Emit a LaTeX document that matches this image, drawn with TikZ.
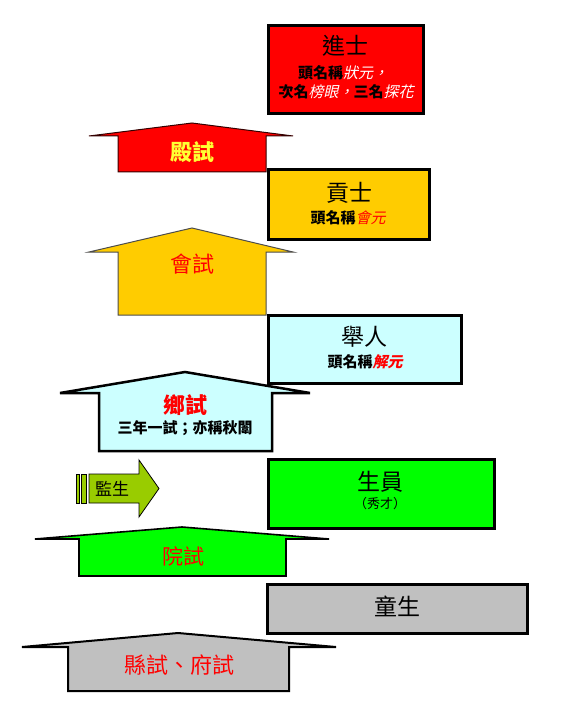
\documentclass[tikz,border=0pt]{standalone}
\usepackage{fontspec}
\newfontfamily\cjk{Noto Sans CJK TC}
\newfontfamily\cjkit[FakeSlant=0.22]{Noto Sans CJK TC}
\definecolor{jred}{HTML}{FF0000}
\definecolor{gold}{HTML}{FFCC00}
\definecolor{lcyan}{HTML}{CCFFFF}
\definecolor{lgreen}{HTML}{00FF00}
\definecolor{olive}{HTML}{99CC00}
\definecolor{lgray}{HTML}{C0C0C0}
\definecolor{yel}{HTML}{FFFF33}
\tikzset{
  rankbox/.style={draw=black, line width=3pt, inner sep=0pt},
  exam/.style={draw=black, line width=1pt, line join=miter},
  title/.style={font=\cjk\fontsize{23}{26}\selectfont, inner sep=0pt},
  sub/.style={font=\cjk\bfseries\fontsize{15}{18}\selectfont, inner sep=0pt},
  examtext/.style={font=\cjk\fontsize{22}{25}\selectfont, text=jred, inner sep=0pt},
}
\newcommand{\itw}[1]{{\cjkit\mdseries\color{white}#1}}
\newcommand{\itr}[1]{{\cjkit\color{jred}#1}}
\begin{document}
\begin{tikzpicture}[x=1pt,y=-1pt]
\useasboundingbox (0,0) rectangle (575,719);
% ---- exam arrows ----
\draw[exam, fill=jred, draw=black!80!red] (89,136) -- (192,123) -- (293,136) -- (266,136) -- (266,172) -- (118,172) -- (118,136) -- cycle;
\node[examtext, text=yel, font=\cjk\bfseries\fontsize{22}{25}\selectfont] (dianshi) at (192,152) {殿試};

\draw[exam, fill=gold, draw=black!70] (89,252) -- (192,228) -- (293,252) -- (266,252) -- (266,315) -- (118,315) -- (118,252) -- cycle;
\node[examtext] (huishi) at (192,264) {會試};

\draw[exam, fill=lcyan, line width=2.5pt] (60,393) -- (185,372) -- (310,393) -- (272,393) -- (272,451) -- (99,451) -- (99,393) -- cycle;
\node[examtext, font=\cjk\bfseries\fontsize{22}{25}\selectfont] (xiangshi) at (185,405) {鄉試};
\node[sub] (xiangsub) at (185,428) {三年一試；亦稱秋闈};

\draw[exam, fill=olive, line width=0.8pt] (76,474) rectangle (79,503);
\draw[exam, fill=olive, line width=0.8pt] (81,474) rectangle (86,503);
\draw[exam, fill=olive, line width=0.8pt] (89,474) -- (139,474) -- (139,460) -- (159,488.5) -- (139,517) -- (139,503) -- (89,503) -- cycle;
\node[font=\cjk\fontsize{17}{20}\selectfont, inner sep=0pt] (jiansheng) at (112,489) {監生};

\draw[exam, fill=lgreen, line width=1.6pt] (35,539) -- (182,527) -- (329,539) -- (286,539) -- (286,576) -- (79,576) -- (79,539) -- cycle;
\node[examtext, font=\cjk\fontsize{21}{24}\selectfont] (yuanshi) at (183,556) {院試};

\draw[exam, fill=lgray, line width=2pt] (22,647) -- (178,633) -- (336,647) -- (289,647) -- (289,691) -- (68,691) -- (68,647) -- cycle;
\node[examtext] (xianshi) at (179,665) {縣試、府試};

% ---- rank boxes ----
\node[rankbox, fill=jred, minimum width=155pt, minimum height=88pt] (jinshi) at (345.5,70) {};
\node[title] (jinshiT) at (345,46) {進士};
\node[sub] (jinshiA) at (343,73) {頭名稱\itw{狀元，}};
\node[sub] (jinshiB) at (346,92) {次名\itw{榜眼，}三名\itw{探花}};

\node[rankbox, fill=gold, minimum width=161pt, minimum height=69pt] (gongshi) at (348.5,204.5) {};
\node[title] (gongshiT) at (349,193) {貢士};
\node[sub] (gongshiA) at (348,218) {頭名稱\itr{\mdseries 會元}};

\node[rankbox, fill=lcyan, minimum width=193pt, minimum height=68pt] (juren) at (364.5,349) {};
\node[title] (jurenT) at (364,337) {舉人};
\node[sub] (jurenA) at (365,362) {頭名稱\itr{解元}};

\node[rankbox, fill=lgreen, minimum width=226pt, minimum height=69pt] (shengyuan) at (381,493.5) {};
\node[title] (shengyuanT) at (380,482) {生員};
\node[font=\cjk\fontsize{13}{16}\selectfont, inner sep=0pt] (xiucai) at (380,504) {（秀才）};

\node[rankbox, fill=lgray, minimum width=260pt, minimum height=49pt] (tongsheng) at (397,608.5) {};
\node[title] (tongshengT) at (397,606) {童生};
\end{tikzpicture}
\end{document}
